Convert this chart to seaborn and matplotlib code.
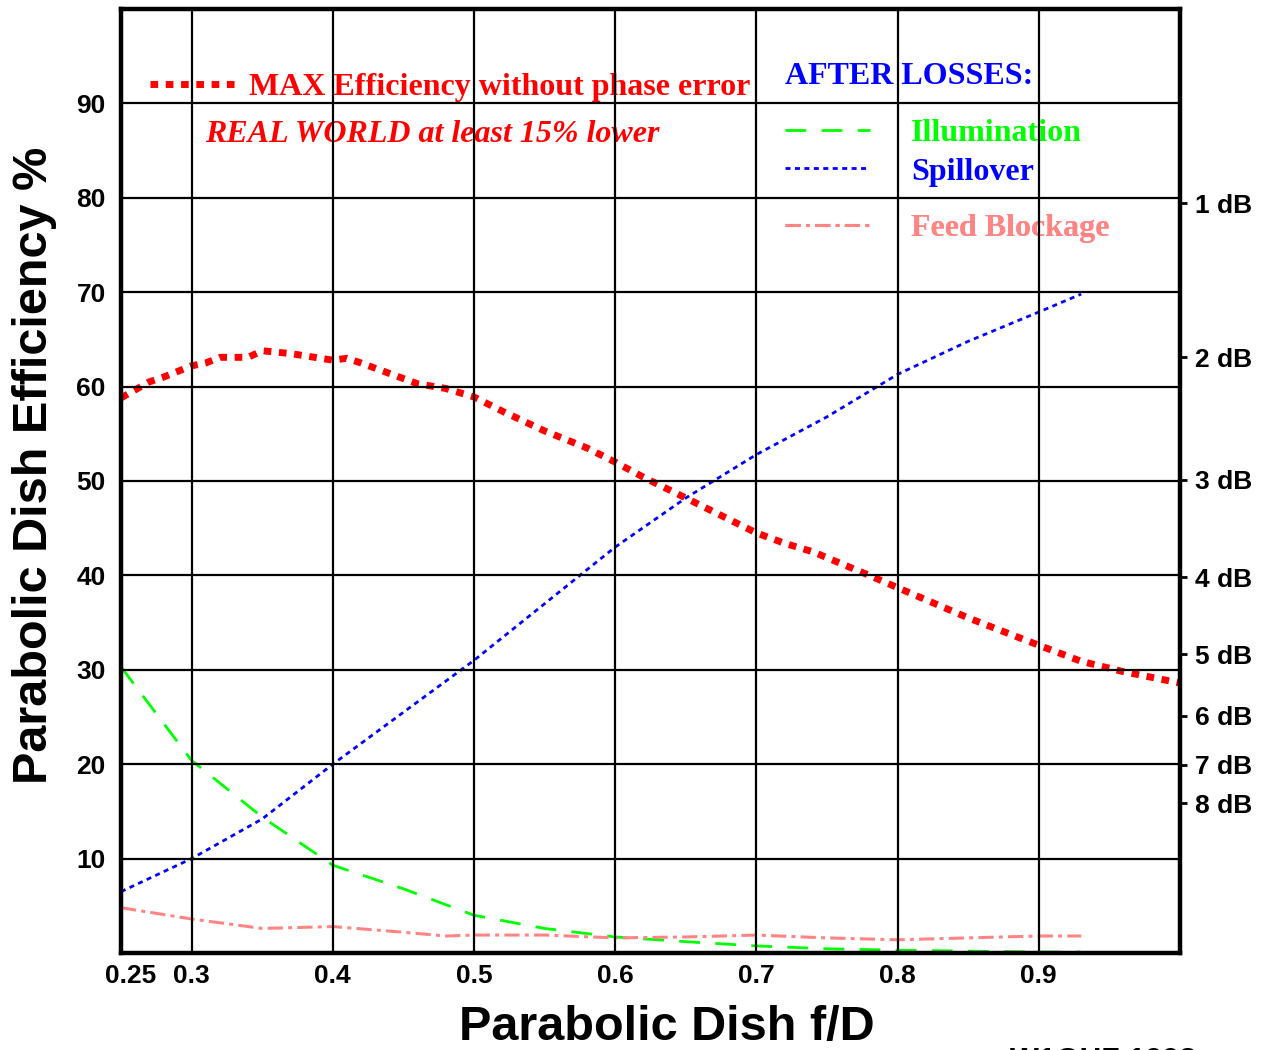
import matplotlib
matplotlib.use("Agg")
import numpy as np
import pandas as pd
import seaborn as sns
import matplotlib.pyplot as plt
from matplotlib.transforms import ScaledTranslation

# --- values (f/D vs efficiency %) ---
max_fd = [0.25, 0.27, 0.28, 0.30, 0.31, 0.32, 0.34, 0.35, 0.37, 0.40, 0.41, 0.42, 0.44, 0.46, 0.48,
          0.50, 0.52, 0.55, 0.57, 0.58, 0.60, 0.62, 0.65, 0.70, 0.72, 0.74, 0.78, 0.80, 0.85, 0.90,
          0.93, 0.96, 1.00]
max_eff = [58.8, 60.5, 61.0, 62.2, 62.5, 63.1, 63.1, 63.8, 63.5, 62.8, 63.0, 62.5, 61.4, 60.3, 59.8,
           58.9, 57.4, 55.3, 54.1, 53.5, 52.0, 50.4, 48.2, 44.5, 43.4, 42.5, 40.0, 38.7, 35.5, 32.6,
           30.9, 29.8, 28.6]

loss_fd = [0.25, 0.30, 0.35, 0.40, 0.45, 0.50, 0.55, 0.60, 0.65, 0.70, 0.75, 0.80, 0.85, 0.90, 0.93]
spillover = [6.5, 10.0, 14.2, 20.0, 25.5, 31.0, 37.0, 43.0, 48.2, 52.8, 56.8, 61.3, 64.8, 67.9, 69.8]
illumination = [30.3, 20.4, 14.4, 9.3, 6.8, 4.0, 2.6, 1.7, 1.2, 0.75, 0.45, 0.3, 0.2, 0.1, 0.1]

block_fd = [0.25, 0.30, 0.35, 0.40, 0.45, 0.48, 0.50, 0.55, 0.60, 0.65, 0.70, 0.75, 0.80, 0.85, 0.90, 0.93]
blockage = [4.8, 3.6, 2.6, 2.8, 2.2, 1.8, 1.9, 1.9, 1.6, 1.7, 1.9, 1.6, 1.4, 1.6, 1.8, 1.8]

x_ticks = [0.25, 0.3, 0.4, 0.5, 0.6, 0.7, 0.8, 0.9]
x_labels = ['0.25', '0.3', '0.4', '0.5', '0.6', '0.7', '0.8', '0.9']
y_ticks = [10, 20, 30, 40, 50, 60, 70, 80, 90]
db_steps = [1, 2, 3, 4, 5, 6, 7, 8]

RED, BLUE, GREEN, PINK = '#ff0000', '#0000ff', '#00ff00', '#ff8585'

sns.set_theme(style='white')
plt.rcParams['font.family'] = ['Liberation Sans', 'DejaVu Sans']
SERIF = ['Liberation Serif', 'DejaVu Serif']

fig = plt.figure(figsize=(12.69, 10.5), dpi=100)
ax = fig.add_axes([121 / 1269, 97 / 1050, 1059 / 1269, 944 / 1050])

# --- curves ---
sns.lineplot(x=max_fd, y=max_eff, ax=ax, color=RED, linewidth=5.0, linestyle=(0, (1.1, 1.1)))
sns.lineplot(x=loss_fd, y=illumination, ax=ax, color=GREEN, linewidth=2.0, linestyle=(0, (7.5, 5.5)))
sns.lineplot(x=loss_fd, y=spillover, ax=ax, color=BLUE, linewidth=2.0, linestyle=(0, (1.8, 1.6)))
sns.lineplot(x=block_fd, y=blockage, ax=ax, color=PINK, linewidth=2.2, linestyle=(0, (5, 1.7, 1.3, 1.7)))
red_line, green_line, blue_line, pink_line = ax.lines[:4]

ax.set_xlim(0.25, 1.0)
ax.set_ylim(0, 100)
ax.set_xticks(x_ticks)
ax.set_xticklabels(x_labels)
ax.set_yticks(y_ticks)
ax.set_yticklabels([str(v) for v in y_ticks])
ax.tick_params(axis='x', length=0, pad=8, labelsize=19, labelcolor='black')
ax.tick_params(axis='y', length=0, pad=11, labelsize=19, labelcolor='black')
for lab in ax.get_xticklabels() + ax.get_yticklabels():
    lab.set_fontweight('bold')
# nudge "0.25" right so it clears the axis corner
first = ax.get_xticklabels()[0]
first.set_transform(first.get_transform() + ScaledTranslation(0.10, 0, fig.dpi_scale_trans))

ax.grid(True, color='black', linewidth=1.6)
ax.set_axisbelow(False)
for sp in ax.spines.values():
    sp.set_color('black')
    sp.set_linewidth(3.2)

ax.set_xlabel('Parabolic Dish f/D', fontsize=35, fontweight='bold', color='black')
ax.set_ylabel('Parabolic Dish Efficiency %', fontsize=35, fontweight='bold', color='black')
ax.xaxis.set_label_coords(0.5156, -0.055)
ax.yaxis.set_label_coords(-0.060, 0.517)

# --- right dB axis ---
ax2 = ax.twinx()
ax2.set_ylim(0, 100)
ax2.set_yticks([100 * 10 ** (-d / 10) for d in db_steps])
ax2.set_yticklabels([f'{d} dB' for d in db_steps])
ax2.tick_params(axis='y', length=5, width=2, pad=6, labelsize=19, colors='black', direction='out')
for lab in ax2.get_yticklabels():
    lab.set_fontweight('bold')
ax2.grid(False)
for sp in ax2.spines.values():
    sp.set_visible(False)


# --- legend block drawn as separate single-entry legends ---
def legend_entry(handle, label, color, anchor, pad):
    leg = ax.legend(handles=[handle], labels=[label], loc='center left', bbox_to_anchor=anchor,
                    frameon=False, borderpad=0, borderaxespad=0, handlelength=2.66,
                    handletextpad=pad, prop={'family': SERIF, 'weight': 'bold', 'size': 23})
    leg.get_texts()[0].set_color(color)
    leg.set_zorder(1)
    ax.add_artist(leg)


legend_entry(red_line, 'MAX Efficiency without phase error', RED, (0.0274, 0.9170), 0.44)
legend_entry(green_line, 'Illumination', GREEN, (0.627, 0.868), 1.29)
legend_entry(blue_line, 'Spillover', BLUE, (0.627, 0.8275), 1.29)
legend_entry(pink_line, 'Feed Blockage', PINK, (0.627, 0.768), 1.29)

ax.text(0.0793, 0.8668, 'REAL WORLD at least 15% lower', transform=ax.transAxes, color=RED,
        fontsize=23, fontweight='bold', fontstyle='italic', family=SERIF, va='center', ha='left', zorder=1)
ax.text(0.627, 0.929, 'AFTER LOSSES:', transform=ax.transAxes, color=BLUE,
        fontsize=23, fontweight='bold', family=SERIF, va='center', ha='left', zorder=1)

# signature sits at the bottom edge, partly cut off as in the original scan
fig.text(1010 / 1269, -0.019, 'W1GHZ 1998', fontsize=22, fontweight='bold', color='black',
         ha='left', va='baseline')

fig.savefig('out.png', dpi=100, facecolor='white')
